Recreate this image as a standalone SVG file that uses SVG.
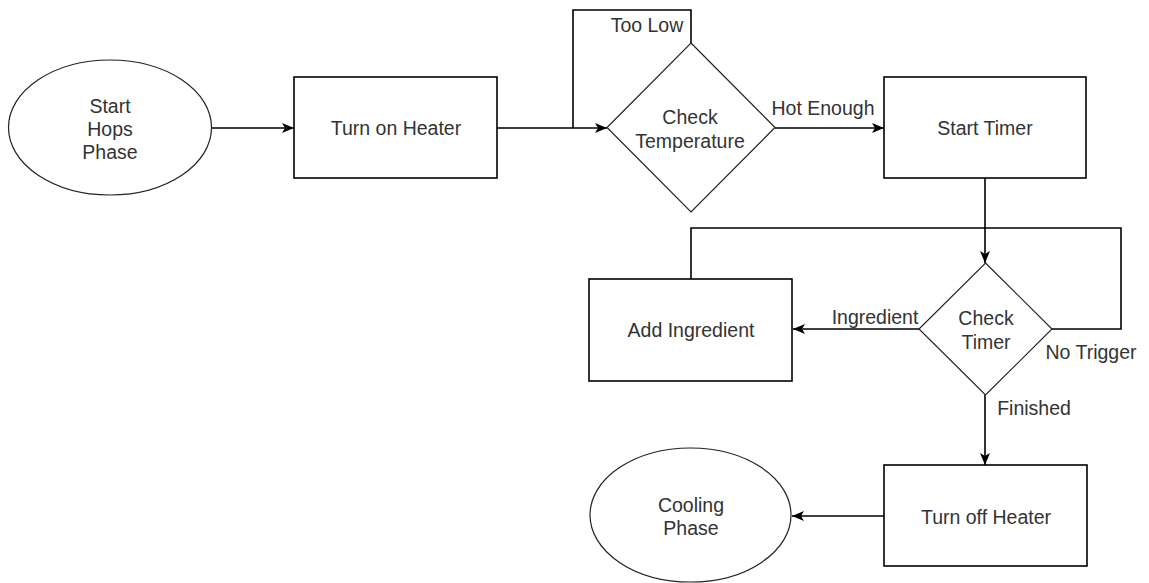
<svg xmlns="http://www.w3.org/2000/svg" width="1149" height="583" viewBox="0 0 1149 583">
<style>
.shape{fill:#fff;stroke:#000;stroke-width:1.6}
.thin{fill:#fff;stroke:#222;stroke-width:1.2}
.edge{fill:none;stroke:#000;stroke-width:1.6}
text{font-family:"Liberation Sans",Arial,sans-serif;font-size:19.5px;fill:#333;text-anchor:middle;dominant-baseline:central}
</style>
<defs>
<marker id="arr" markerUnits="userSpaceOnUse" markerWidth="13" markerHeight="11" refX="12" refY="5.5" orient="auto">
<path d="M0,0.5 L12,5.5 L0,10.5 L3,5.5 z" fill="#000"/>
</marker>
</defs>
<rect width="1149" height="583" fill="#fff"/>
<g id="edges">
<path class="edge" d="M211,128 H294" marker-end="url(#arr)"/>
<path class="edge" d="M497,128 H607" marker-end="url(#arr)"/>
<path class="edge" d="M691,43 V10 H573 V128"/>
<path class="edge" d="M775,128 H884" marker-end="url(#arr)"/>
<path class="edge" d="M985,178 V263" marker-end="url(#arr)"/>
<path class="edge" d="M691,279 V228 H985"/>
<path class="edge" d="M1052,329 H1121 V228 H985"/>
<path class="edge" d="M919,329 H793" marker-end="url(#arr)"/>
<path class="edge" d="M985,395 V465" marker-end="url(#arr)"/>
<path class="edge" d="M884,516 H792" marker-end="url(#arr)"/>
<text x="647" y="25">Too Low</text>
<text x="823" y="108">Hot Enough</text>
<text x="875" y="317">Ingredient</text>
<text x="1091" y="352">No Trigger</text>
<text x="1034" y="408">Finished</text>
</g>
<g id="start">
<ellipse class="thin" cx="110" cy="127.5" rx="101.5" ry="67.5"/>
<text x="110" y="106">Start</text>
<text x="110" y="129">Hops</text>
<text x="110" y="152">Phase</text>
</g>
<g id="heater-on">
<rect class="shape" x="294" y="77" width="203" height="101"/>
<text x="396" y="128">Turn on Heater</text>
</g>
<g id="check-temp">
<polygon class="thin" points="691,43 775,127.5 691,212 607,127.5"/>
<text x="690" y="117">Check</text>
<text x="690" y="141">Temperature</text>
</g>
<g id="start-timer">
<rect class="shape" x="884" y="77" width="202" height="101"/>
<text x="985" y="128">Start Timer</text>
</g>
<g id="check-timer">
<polygon class="thin" points="985.5,263 1052,329 985.5,395 919,329"/>
<text x="986" y="318">Check</text>
<text x="986" y="342">Timer</text>
</g>
<g id="add-ingredient">
<rect class="shape" x="589" y="279" width="203" height="102"/>
<text x="691" y="330">Add Ingredient</text>
</g>
<g id="heater-off">
<rect class="shape" x="884" y="465" width="203" height="101"/>
<text x="986" y="517">Turn off Heater</text>
</g>
<g id="cooling">
<ellipse class="thin" cx="690.5" cy="515" rx="100.5" ry="67"/>
<text x="691" y="505">Cooling</text>
<text x="691" y="528">Phase</text>
</g>
</svg>
